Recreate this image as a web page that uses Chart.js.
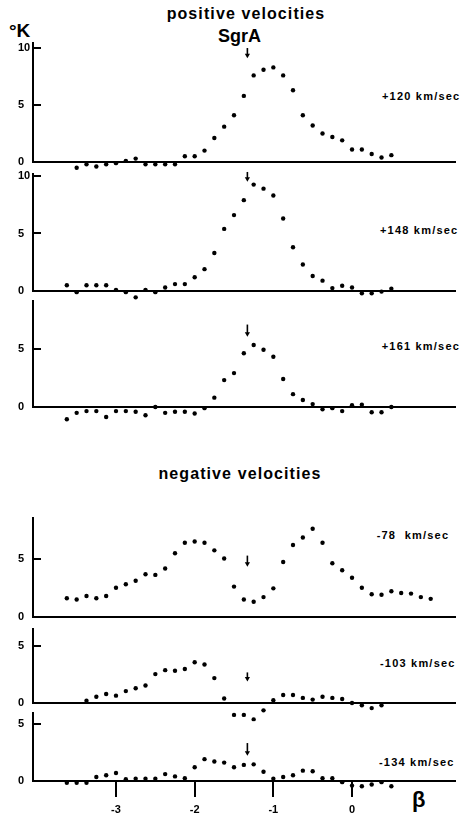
<!DOCTYPE html>
<html>
<head>
<meta charset="utf-8">
<script src="https://cdn.jsdelivr.net/npm/chart.js@4.4.1/dist/chart.umd.min.js"></script>
<style>
  html, body { margin: 0; padding: 0; background: #fff; }
  body { width: 465px; height: 817px; position: relative; overflow: hidden;
         font-family: "Liberation Sans", Arial, sans-serif; font-weight: bold; color: #000; }
  canvas { position: absolute; left: 0; }
  .txt { position: absolute; white-space: pre; line-height: 1; }
  .vel { font-size: 11px; letter-spacing: 1.2px; }
</style>
</head>
<body>
<div class="txt" style="left:246px; top:6px; font-size:16px; letter-spacing:1.1px; transform:translateX(-50%)">positive velocities</div>
<div class="txt" style="left:218px; top:27px; font-size:18px">SgrA</div>
<div class="txt" style="left:9px; top:21px; font-size:19px">°K</div>
<div class="txt" style="left:240px; top:466px; font-size:16px; letter-spacing:1.1px; transform:translateX(-50%)">negative velocities</div>
<div class="txt" style="left:412px; top:789px; font-size:22px">β</div>
<div id="labels"></div>

<script>
// -------------------------------------------------------------------------
// DATA (antenna temperature in °K versus galactic latitude b)
// -------------------------------------------------------------------------
var bGrid = [
  -3.625, -3.5, -3.375, -3.25, -3.125, -3, -2.875, -2.75, -2.625, -2.5,
  -2.375, -2.25, -2.125, -2, -1.875, -1.75, -1.625, -1.5, -1.375, -1.25,
  -1.125, -1, -0.875, -0.75, -0.625, -0.5, -0.375, -0.25, -0.125, 0,
  0.125, 0.25, 0.375, 0.5, 0.625, 0.75, 0.875, 1
];

var velocityLabels = ['+120 km/sec', '+148 km/sec', '+161 km/sec', '-78  km/sec', '-103 km/sec', '-134 km/sec'];
// index in bGrid of the first point of each profile
var firstIndex = [1, 0, 0, 0, 2, 0];

var tPlus120 = [
  -0.5, -0.2, -0.4, -0.2, -0.1, 0.1, 0.3, -0.2, -0.2, -0.2,
  -0.2, 0.5, 0.5, 1.0, 2.1, 3.1, 4.1, 5.8, 7.6, 8.1,
  8.3, 7.6, 6.3, 4.1, 3.2, 2.5, 2.2, 1.9, 1.1, 1.1,
  0.7, 0.4, 0.6
];
var tPlus148 = [
  0.5, -0.1, 0.5, 0.5, 0.5, 0.1, -0.1, -0.55, 0.1, -0.1,
  0.3, 0.6, 0.6, 1.2, 1.9, 3.3, 5.4, 6.6, 7.9, 9.25,
  8.9, 8.3, 6.3, 3.8, 2.3, 1.3, 0.9, 0.25, 0.45, 0.3,
  -0.2, -0.2, -0.05, 0.2
];
var tPlus161 = [
  -1.05, -0.5, -0.35, -0.35, -0.85, -0.35, -0.35, -0.4, -0.7, 0.0,
  -0.5, -0.4, -0.4, -0.55, -0.1, 0.8, 2.3, 2.9, 4.6, 5.3,
  4.9, 4.3, 2.4, 1.1, 0.6, 0.25, -0.2, -0.1, -0.35, 0.15,
  0.2, -0.45, -0.45, 0.0
];
var tMinus78 = [
  1.6, 1.5, 1.8, 1.6, 1.8, 2.5, 2.8, 3.1, 3.65, 3.6,
  4.15, 5.45, 6.35, 6.45, 6.35, 5.7, 5.0, 2.6, 1.5, 1.3,
  1.7, 2.45, 4.7, 6.15, 6.8, 7.55, 6.35, 4.6, 4.0, 3.35,
  2.5, 1.95, 1.9, 2.2, 2.05, 2.0, 1.7, 1.55
];
var tMinus103 = [
  0.2, 0.55, 0.8, 0.65, 1.05, 1.3, 1.55, 2.55, 2.9, 2.85,
  3.0, 3.6, 3.4, 2.2, 0.4, -1.05, -1.05, -1.45, -0.65, 0.25,
  0.7, 0.7, 0.45, 0.3, 0.55, 0.45, 0.35, 0.0, -0.2, -0.45,
  -0.2
];
var tMinus134 = [
  -0.15, -0.15, -0.15, 0.35, 0.5, 0.7, 0.15, 0.2, 0.2, 0.2,
  0.6, 0.4, 0.25, 1.2, 1.9, 1.7, 1.6, 1.2, 1.4, 1.45,
  0.8, 0.2, 0.35, 0.5, 0.9, 0.85, 0.25, 0.25, -0.1, -0.4,
  -0.45, -0.3, -0.1, -0.45
];
var profiles = [tPlus120, tPlus148, tPlus161, tMinus78, tMinus103, tMinus134];

var yTicks = [[0, 5, 10], [0, 5, 10], [0, 5], [0, 5], [0, 5], [0, 5]];
var bTicks = [-3, -2, -1, 0];
var bTickLabels = ['-3', '-2', '-1', '0'];

// Sgr A position and arrow extent (°K) in each panel
var sgrAb = -1.33;
var arrowTop = [10.0, 10.35, 7.05, 5.25, 2.7, 3.3];
var arrowTip = [9.1, 9.5, 6.0, 4.3, 1.9, 2.2];

// -------------------------------------------------------------------------
// LAYOUT
// -------------------------------------------------------------------------
var bMin = -4.055, bMax = 1.309;
var yMin = -1.6;   // room under the zero line for negative points
// page pixel of the top of each y axis, of the zero line, and the value at the top
var panels = [
  { top: 42,  zero: 162, yMax: 10.53, labelLeft: 382, labelTop: 90.7 },
  { top: 173, zero: 291, yMax: 10.26, labelLeft: 380, labelTop: 225.2 },
  { top: 300, zero: 407, yMax: 9.15,  labelLeft: 381.7, labelTop: 341.2 },
  { top: 517, zero: 617, yMax: 8.55,  labelLeft: 376.7, labelTop: 529.7 },
  { top: 628, zero: 703, yMax: 6.62,  labelLeft: 380, labelTop: 658.2 },
  { top: 712, zero: 781, yMax: 6.0,   labelLeft: 379, labelTop: 757.2 }
];

var FONT = 'Liberation Sans, Arial, sans-serif';
Chart.defaults.font.family = FONT;
Chart.defaults.color = '#000';

// y axis line from 0 up, inward y ticks and the Sgr A arrow
var decor = {
  id: 'decor',
  afterDatasetsDraw: function(chart, args, opts) {
    var ctx = chart.ctx, xs = chart.scales.x, ys = chart.scales.y, area = chart.chartArea;
    var y0 = ys.getPixelForValue(0);
    ctx.save();
    ctx.strokeStyle = '#000';
    ctx.fillStyle = '#000';
    ctx.lineWidth = 2;
    ctx.beginPath();
    ctx.moveTo(area.left, area.top);
    ctx.lineTo(area.left, y0 + 1);
    ctx.stroke();
    ys.ticks.forEach(function(t) {
      if (t.value === 0) return;
      var y = Math.round(ys.getPixelForValue(t.value));
      ctx.beginPath();
      ctx.moveTo(area.left, y);
      ctx.lineTo(area.left + 8, y);
      ctx.stroke();
    });
    var ax = xs.getPixelForValue(opts.b);
    var y1 = ys.getPixelForValue(opts.top);
    var y2 = ys.getPixelForValue(opts.tip);
    ctx.lineWidth = 1.6;
    ctx.beginPath();
    ctx.moveTo(ax, y1);
    ctx.lineTo(ax, y2 - 3);
    ctx.stroke();
    ctx.beginPath();
    ctx.moveTo(ax - 2.6, y2 - 4.5);
    ctx.lineTo(ax + 2.6, y2 - 4.5);
    ctx.lineTo(ax, y2);
    ctx.closePath();
    ctx.fill();
    ctx.restore();
  }
};

var labelBox = document.getElementById('labels');

panels.forEach(function(p, i) {
  var last = i === panels.length - 1;
  var pxPerK = (p.zero - p.top) / p.yMax;
  var below = -yMin * pxPerK;
  var padTop = 14;
  var padBottom = last ? 22 : 9;   // keeps Chart.js from shrinking the area for the "0" label
  var areaH = (p.zero - p.top) + below;
  var h = Math.ceil(padTop + areaH + padBottom);

  var canvas = document.createElement('canvas');
  canvas.width = 465;
  canvas.height = h;
  canvas.style.width = '465px';
  canvas.style.height = h + 'px';
  canvas.style.top = (p.top - padTop) + 'px';
  document.body.appendChild(canvas);

  var lab = document.createElement('div');
  lab.className = 'txt vel';
  lab.style.left = p.labelLeft + 'px';
  lab.style.top = p.labelTop + 'px';
  lab.textContent = velocityLabels[i];
  labelBox.appendChild(lab);

  var points = profiles[i].map(function(v, k) {
    return { x: bGrid[firstIndex[i] + k], y: v };
  });

  new Chart(canvas, {
    type: 'scatter',
    data: {
      datasets: [{
        data: points,
        pointRadius: 2.2,
        pointBackgroundColor: '#000',
        pointBorderWidth: 0,
        showLine: false
      }]
    },
    options: {
      responsive: false,
      animation: false,
      devicePixelRatio: 1,
      layout: { padding: { left: 18, right: 10, top: padTop, bottom: h - padTop - areaH } },
      plugins: {
        legend: { display: false },
        tooltip: { enabled: false },
        decor: { b: sgrAb, top: arrowTop[i], tip: arrowTip[i] }
      },
      scales: {
        x: {
          type: 'linear',
          position: { y: 0 },
          min: bMin,
          max: bMax,
          afterBuildTicks: function(s) { s.ticks = bTicks.map(function(v) { return { value: v }; }); },
          grid: { display: last, drawOnChartArea: false, drawTicks: last, tickLength: 15, color: '#000', lineWidth: 2 },
          border: { display: true, color: '#000', width: 2 },
          ticks: {
            display: last,
            padding: 7,
            maxRotation: 0,
            autoSkip: false,
            font: { size: 11, weight: 'bold' },
            callback: function(v, idx) { return bTickLabels[idx]; }
          }
        },
        y: {
          type: 'linear',
          position: 'left',
          min: yMin,
          max: p.yMax,
          afterBuildTicks: function(s) { s.ticks = yTicks[i].map(function(v) { return { value: v }; }); },
          afterFit: function(s) { s.width = 15; },
          grid: { display: false },
          border: { display: false },
          ticks: {
            crossAlign: 'far',
            padding: 0,
            font: { size: 11, weight: 'bold' },
            callback: function(v) { return String(v); }
          }
        }
      }
    },
    plugins: [decor]
  });
});
</script>
</body>
</html>
